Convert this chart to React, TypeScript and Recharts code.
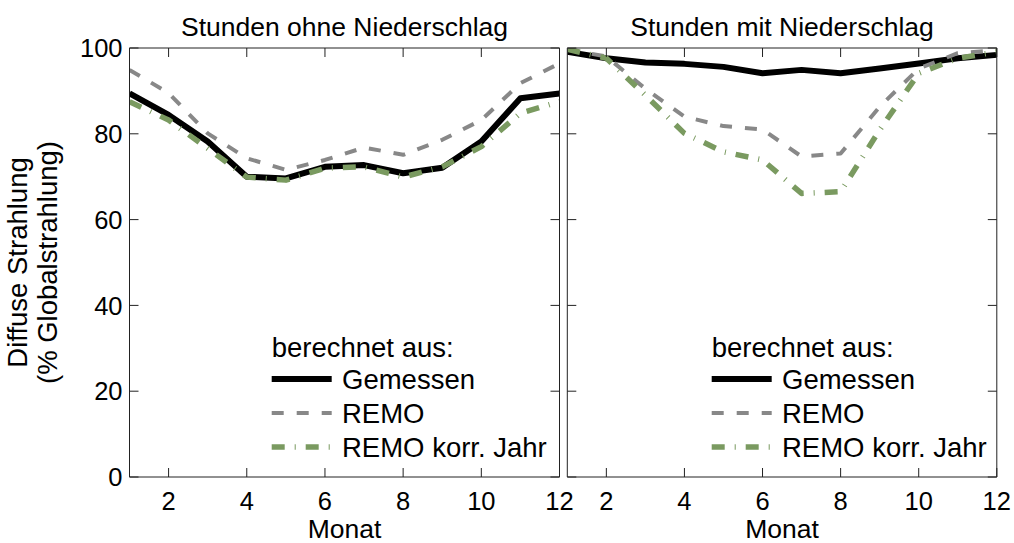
import React from 'react';
import { LineChart, Line, XAxis, YAxis, Legend } from 'recharts';

const months = [1, 2, 3, 4, 5, 6, 7, 8, 9, 10, 11, 12];
const xTicks = [2, 4, 6, 8, 10, 12];
const yTicks = [0, 20, 40, 60, 80, 100];

const leftMeasured = [89.4, 84.4, 78.2, 70.0, 69.6, 72.3, 72.7, 70.8, 72.1, 78.2, 88.3, 89.4];
const leftRemo = [94.9, 89.5, 80.1, 74.3, 71.6, 73.9, 76.8, 75.1, 78.6, 83.2, 91.8, 96.4];
const leftKorr = [87.5, 83.2, 76.6, 69.9, 69.2, 72.0, 72.3, 69.9, 72.3, 77.0, 84.8, 87.5];

const rightMeasured = [99.1, 97.6, 96.6, 96.3, 95.6, 94.1, 94.9, 94.1, 95.2, 96.4, 97.6, 98.4];
const rightRemo = [99.7, 98.0, 90.5, 84.0, 81.8, 81.0, 74.7, 75.4, 86.3, 95.2, 98.8, 99.5];
const rightKorr = [99.7, 97.6, 89.0, 80.1, 75.8, 73.9, 66.1, 66.5, 80.9, 94.1, 97.6, 99.1];

const titles = ['Stunden ohne Niederschlag', 'Stunden mit Niederschlag'];
const xLabel = 'Monat';
const yLabel1 = 'Diffuse Strahlung';
const yLabel2 = '(% Globalstrahlung)';
const legendTitle = 'berechnet aus:';

const seriesStyle = [
  { key: 'measured', name: 'Gemessen', color: '#000000', width: 6, dash: undefined as string | undefined },
  { key: 'remo', name: 'REMO', color: '#888888', width: 4, dash: '12 13' },
  { key: 'korr', name: 'REMO korr. Jahr', color: '#7a9a60', width: 5.5, dash: '13 10 1 10' },
];

const FONT = '"Liberation Sans", Arial, sans-serif';
const AXIS = '#222222';
const TICK_LEN = 9;
const TICK_FS = 25.5;
const LABEL_FS = 26.5;
const YLABEL_FS = 27.5;
const LEGEND_FS = 27.5;

const buildData = (a: number[], b: number[], c: number[]) =>
  months.map((m, i) => ({ m, measured: a[i], remo: b[i], korr: c[i] }));

const leftData = buildData(leftMeasured, leftRemo, leftKorr);
const rightData = buildData(rightMeasured, rightRemo, rightKorr);

const BottomTick = (props: any) => {
  const { x, y, payload } = props;
  return (
    <g>
      <line x1={x} x2={x} y1={y} y2={y - TICK_LEN} stroke={AXIS} strokeWidth={1} />
      <text x={x} y={y + 33} textAnchor="middle" fontSize={TICK_FS} fontFamily={FONT} fill="#000">
        {payload.value}
      </text>
    </g>
  );
};

const TopTick = (props: any) => {
  const { x, y } = props;
  return <line x1={x} x2={x} y1={y} y2={y + TICK_LEN} stroke={AXIS} strokeWidth={1} />;
};

const LeftTickLabeled = (props: any) => {
  const { x, y, payload } = props;
  return (
    <g>
      <line x1={x} x2={x + TICK_LEN} y1={y} y2={y} stroke={AXIS} strokeWidth={1} />
      <text x={x - 7} y={y} dy="0.36em" textAnchor="end" fontSize={TICK_FS} fontFamily={FONT} fill="#000">
        {payload.value}
      </text>
    </g>
  );
};

const LeftTickPlain = (props: any) => {
  const { x, y } = props;
  return <line x1={x} x2={x + TICK_LEN} y1={y} y2={y} stroke={AXIS} strokeWidth={1} />;
};

const RightTick = (props: any) => {
  const { x, y } = props;
  return <line x1={x} x2={x - TICK_LEN} y1={y} y2={y} stroke={AXIS} strokeWidth={1} />;
};

const makeTitle = (t: string) => (p: any) => {
  const vb = p.viewBox;
  return (
    <text x={vb.x + vb.width / 2} y={vb.y + vb.height - 12} textAnchor="middle" fontSize={LABEL_FS} fontFamily={FONT} fill="#000">
      {t}
    </text>
  );
};

const MonatLabel = (p: any) => {
  const vb = p.viewBox;
  return (
    <text x={vb.x + vb.width / 2} y={vb.y + 61} textAnchor="middle" fontSize={LABEL_FS} fontFamily={FONT} fill="#000">
      {xLabel}
    </text>
  );
};

const YLabel = (p: any) => {
  const vb = p.viewBox;
  const cy = vb.y + vb.height / 2;
  const x1 = 17;
  const x2 = 47;
  return (
    <g>
      <text x={x1} y={cy} transform={`rotate(-90, ${x1}, ${cy})`} textAnchor="middle" dominantBaseline="central" fontSize={YLABEL_FS} fontFamily={FONT} fill="#000">
        {yLabel1}
      </text>
      <text x={x2} y={cy} transform={`rotate(-90, ${x2}, ${cy})`} textAnchor="middle" dominantBaseline="central" fontSize={YLABEL_FS} fontFamily={FONT} fill="#000">
        {yLabel2}
      </text>
    </g>
  );
};

const LegendBox = () => {
  const rows = [46, 80, 114];
  return (
    <svg width={290} height={135} style={{ display: 'block', overflow: 'visible' }}>
      <text x={1.7} y={24} fontSize={LEGEND_FS} fontFamily={FONT} fill="#000">{legendTitle}</text>
      {seriesStyle.map((s, i) => (
        <g key={s.key}>
          <line x1={1.7} x2={61.7} y1={rows[i]} y2={rows[i]} stroke={s.color} strokeWidth={s.width} strokeDasharray={s.dash} />
          <text x={72} y={rows[i] + 10} fontSize={LEGEND_FS} fontFamily={FONT} fill="#000">{s.name}</text>
        </g>
      ))}
    </svg>
  );
};

const Panel = (props: { data: any[]; title: string; showYLabels: boolean; width: number; margin: any; legendLeft: number }) => {
  const { data, title, showYLabels, width, margin, legendLeft } = props;
  return (
    <LineChart width={width} height={543} data={data} margin={margin}>
      <XAxis
        xAxisId="b"
        dataKey="m"
        type="number"
        domain={[1, 12]}
        ticks={xTicks}
        tickLine={false}
        tickSize={0}
        tickMargin={0}
        height={60}
        axisLine={{ stroke: AXIS, strokeWidth: 1 }}
        tick={<BottomTick />}
        label={{ content: MonatLabel }}
        interval={0}
        allowDataOverflow
      />
      <XAxis
        xAxisId="t"
        orientation="top"
        dataKey="m"
        type="number"
        domain={[1, 12]}
        ticks={xTicks}
        tickLine={false}
        tickSize={0}
        tickMargin={0}
        height={1}
        axisLine={{ stroke: AXIS, strokeWidth: 1 }}
        tick={<TopTick />}
        label={{ content: makeTitle(title) }}
        interval={0}
        allowDataOverflow
      />
      <YAxis
        yAxisId="l"
        type="number"
        domain={[0, 100]}
        ticks={yTicks}
        tickLine={false}
        tickSize={0}
        tickMargin={0}
        width={showYLabels ? 60 : 1}
        axisLine={{ stroke: AXIS, strokeWidth: 1 }}
        tick={showYLabels ? <LeftTickLabeled /> : <LeftTickPlain />}
        label={showYLabels ? { content: YLabel } : undefined}
        interval={0}
        allowDataOverflow
      />
      <YAxis
        yAxisId="r"
        orientation="right"
        type="number"
        domain={[0, 100]}
        ticks={yTicks}
        tickLine={false}
        tickSize={0}
        tickMargin={0}
        width={1}
        axisLine={{ stroke: AXIS, strokeWidth: 1 }}
        tick={<RightTick />}
        interval={0}
        allowDataOverflow
      />
      {seriesStyle.map((s) => (
        <Line
          key={s.key}
          xAxisId="b"
          yAxisId="l"
          dataKey={s.key}
          name={s.name}
          type="linear"
          stroke={s.color}
          strokeWidth={s.width}
          strokeDasharray={s.dash}
          dot={false}
          activeDot={false}
          isAnimationActive={false}
          strokeLinejoin="round"
        />
      ))}
      <Legend
        layout="horizontal"
        verticalAlign="middle"
        align="center"
        content={() => <LegendBox />}
        wrapperStyle={{ position: 'absolute', left: legendLeft, top: 333, width: 290, height: 135 }}
      />
    </LineChart>
  );
};

export default function App() {
  return (
    <div style={{ position: 'absolute', left: 0, top: 0, width: 1014, height: 543, background: '#fff', fontFamily: FONT }}>
      <div style={{ position: 'absolute', left: 0, top: 0 }}>
        <Panel
          data={leftData}
          title={titles[0]}
          showYLabels
          width={585}
          margin={{ top: 47, right: 24.5, bottom: 6, left: 69.5 }}
          legendLeft={270}
        />
      </div>
      <div style={{ position: 'absolute', left: 560, top: 0 }}>
        <Panel
          data={rightData}
          title={titles[1]}
          showYLabels={false}
          width={454}
          margin={{ top: 47, right: 16.2, bottom: 6, left: 6.3 }}
          legendLeft={150}
        />
      </div>
    </div>
  );
}
